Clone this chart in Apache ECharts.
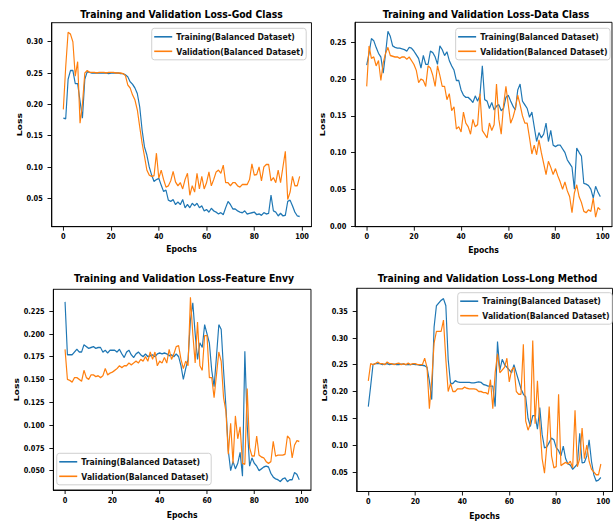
<!DOCTYPE html>
<html>
<head>
<meta charset="utf-8">
<script src="https://cdn.jsdelivr.net/npm/echarts@6.0.0/dist/echarts.min.js"></script>
<style>
  html, body { margin: 0; padding: 0; background: #fff; overflow: hidden; }
  #c { width: 739px; height: 523px; transform: scaleX(0.82949); transform-origin: 0 0; }
</style>
</head>
<body>
<div id="c"></div>
<script>
// ---- data ----
const epochs = Array.from({ length: 100 }, (_, i) => i);
const seriesNames = ['Training(Balanced Dataset)', 'Validation(Balanced Dataset)'];
const titles = [
  'Training and Validation Loss-God Class',
  'Training and Validation Loss-Data Class',
  'Training and Validation Loss-Feature Envy',
  'Training and Validation Loss-Long Method'
];
const xTicks = [0, 20, 40, 60, 80, 100];
const yTicks1 = [0.05, 0.10, 0.15, 0.20, 0.25, 0.30];
const yTicks2 = [0.00, 0.05, 0.10, 0.15, 0.20, 0.25];
const yTicks3 = [0.050, 0.075, 0.100, 0.125, 0.150, 0.175, 0.200, 0.225];
const yTicks4 = [0.05, 0.10, 0.15, 0.20, 0.25, 0.30, 0.35];

const godTrain = [
  0.178,0.177,0.240,0.254,0.254,0.233,0.233,0.205,0.178,0.240,
  0.252,0.251,0.250,0.250,0.250,0.250,0.250,0.250,0.250,0.249,
  0.250,0.250,0.250,0.250,0.249,0.249,0.247,0.244,0.236,0.232,
  0.226,0.217,0.196,0.159,0.132,0.119,0.100,0.087,0.077,0.080,
  0.082,0.071,0.061,0.063,0.047,0.045,0.048,0.040,0.044,0.040,
  0.048,0.035,0.040,0.035,0.042,0.038,0.042,0.035,0.038,0.030,
  0.032,0.028,0.034,0.030,0.028,0.025,0.027,0.024,0.035,0.045,
  0.040,0.033,0.033,0.030,0.028,0.027,0.030,0.025,0.026,0.027,
  0.028,0.024,0.025,0.023,0.027,0.025,0.026,0.055,0.030,0.028,
  0.022,0.026,0.022,0.023,0.045,0.047,0.038,0.028,0.022,0.021
];
const godVal = [
  0.192,0.260,0.315,0.312,0.300,0.245,0.268,0.170,0.200,0.250,
  0.254,0.251,0.251,0.251,0.250,0.251,0.251,0.251,0.250,0.251,
  0.251,0.251,0.250,0.250,0.250,0.249,0.246,0.231,0.226,0.215,
  0.207,0.191,0.164,0.138,0.117,0.095,0.087,0.085,0.086,0.122,
  0.082,0.095,0.080,0.068,0.070,0.078,0.093,0.076,0.070,0.075,
  0.065,0.080,0.090,0.055,0.070,0.060,0.090,0.065,0.085,0.065,
  0.075,0.092,0.070,0.080,0.092,0.095,0.090,0.103,0.075,0.075,
  0.070,0.075,0.075,0.070,0.068,0.072,0.072,0.072,0.080,0.105,
  0.087,0.088,0.100,0.078,0.100,0.104,0.104,0.078,0.083,0.075,
  0.095,0.075,0.100,0.125,0.048,0.060,0.085,0.070,0.070,0.085
];
const dataTrain = [
  0.219,0.235,0.255,0.252,0.243,0.235,0.230,0.208,0.235,0.265,
  0.258,0.245,0.243,0.242,0.242,0.241,0.240,0.238,0.243,0.242,
  0.238,0.233,0.228,0.215,0.232,0.220,0.220,0.238,0.236,0.230,
  0.220,0.245,0.240,0.232,0.237,0.225,0.218,0.212,0.198,0.198,
  0.185,0.178,0.175,0.175,0.172,0.168,0.177,0.170,0.178,0.218,
  0.172,0.170,0.160,0.168,0.158,0.163,0.165,0.157,0.160,0.175,
  0.178,0.170,0.163,0.158,0.185,0.193,0.170,0.165,0.160,0.148,
  0.155,0.135,0.115,0.127,0.120,0.125,0.140,0.115,0.130,0.110,
  0.108,0.110,0.110,0.105,0.100,0.090,0.085,0.080,0.050,0.106,
  0.100,0.095,0.058,0.057,0.055,0.050,0.038,0.054,0.046,0.040
];
const dataVal = [
  0.190,0.245,0.228,0.230,0.218,0.225,0.198,0.222,0.235,0.243,
  0.232,0.231,0.230,0.230,0.228,0.230,0.230,0.227,0.230,0.225,
  0.220,0.212,0.195,0.200,0.198,0.190,0.218,0.215,0.205,0.190,
  0.218,0.205,0.190,0.190,0.172,0.180,0.157,0.162,0.132,0.135,
  0.128,0.155,0.140,0.135,0.125,0.145,0.135,0.138,0.180,0.130,
  0.125,0.120,0.140,0.130,0.138,0.193,0.145,0.125,0.165,0.190,
  0.165,0.140,0.148,0.160,0.178,0.165,0.150,0.140,0.140,0.120,
  0.098,0.110,0.097,0.117,0.100,0.085,0.070,0.088,0.080,0.070,
  0.078,0.068,0.060,0.050,0.060,0.048,0.040,0.018,0.045,0.056,
  0.040,0.032,0.020,0.018,0.022,0.020,0.038,0.012,0.025,0.022
];
const envyTrain = [
  0.235,0.177,0.177,0.177,0.180,0.183,0.180,0.180,0.188,0.186,
  0.184,0.185,0.186,0.184,0.185,0.185,0.180,0.182,0.179,0.182,
  0.182,0.182,0.180,0.183,0.178,0.174,0.180,0.182,0.177,0.174,
  0.178,0.180,0.177,0.175,0.178,0.175,0.176,0.177,0.175,0.178,
  0.179,0.178,0.179,0.178,0.176,0.177,0.175,0.178,0.175,0.165,
  0.150,0.162,0.172,0.215,0.234,0.200,0.172,0.190,0.185,0.210,
  0.200,0.190,0.160,0.142,0.175,0.210,0.205,0.160,0.120,0.072,
  0.050,0.060,0.052,0.058,0.070,0.044,0.181,0.100,0.055,0.064,
  0.058,0.055,0.050,0.052,0.054,0.055,0.054,0.047,0.043,0.041,
  0.040,0.038,0.041,0.042,0.038,0.040,0.040,0.048,0.046,0.040
];
const envyVal = [
  0.183,0.150,0.149,0.147,0.152,0.152,0.150,0.148,0.160,0.152,
  0.150,0.155,0.155,0.153,0.154,0.152,0.154,0.162,0.155,0.157,
  0.158,0.160,0.162,0.165,0.163,0.165,0.165,0.168,0.166,0.168,
  0.170,0.168,0.172,0.170,0.175,0.170,0.180,0.172,0.180,0.165,
  0.170,0.168,0.174,0.168,0.183,0.172,0.178,0.186,0.187,0.172,
  0.162,0.170,0.165,0.240,0.200,0.168,0.213,0.165,0.160,0.198,
  0.198,0.152,0.152,0.130,0.155,0.180,0.170,0.130,0.115,0.068,
  0.102,0.058,0.110,0.085,0.098,0.058,0.057,0.140,0.075,0.066,
  0.066,0.088,0.067,0.065,0.064,0.060,0.058,0.060,0.082,0.066,
  0.067,0.067,0.067,0.068,0.088,0.085,0.064,0.078,0.083,0.082
];
const longTrain = [
  0.172,0.210,0.250,0.252,0.252,0.252,0.250,0.251,0.252,0.250,
  0.251,0.251,0.250,0.250,0.251,0.251,0.250,0.250,0.250,0.251,
  0.250,0.250,0.249,0.249,0.248,0.245,0.220,0.185,0.320,0.360,
  0.365,0.370,0.373,0.360,0.260,0.215,0.215,0.220,0.218,0.217,
  0.217,0.217,0.217,0.217,0.216,0.216,0.217,0.218,0.217,0.213,
  0.212,0.210,0.210,0.210,0.172,0.293,0.240,0.260,0.250,0.245,
  0.240,0.235,0.250,0.235,0.220,0.205,0.195,0.190,0.150,0.135,
  0.155,0.155,0.130,0.170,0.120,0.095,0.097,0.105,0.113,0.110,
  0.095,0.090,0.080,0.098,0.075,0.065,0.063,0.055,0.060,0.065,
  0.122,0.067,0.068,0.080,0.110,0.070,0.045,0.033,0.035,0.040
];
const longVal = [
  0.220,0.252,0.250,0.252,0.255,0.252,0.252,0.250,0.255,0.252,
  0.252,0.250,0.252,0.253,0.250,0.252,0.250,0.253,0.250,0.252,
  0.252,0.250,0.250,0.250,0.262,0.245,0.168,0.220,0.290,0.312,
  0.312,0.312,0.333,0.260,0.200,0.215,0.200,0.200,0.205,0.205,
  0.205,0.208,0.206,0.205,0.205,0.205,0.204,0.200,0.200,0.198,
  0.198,0.195,0.222,0.168,0.235,0.270,0.235,0.240,0.245,0.262,
  0.218,0.240,0.245,0.200,0.195,0.195,0.288,0.145,0.128,0.140,
  0.295,0.140,0.220,0.140,0.075,0.048,0.100,0.172,0.080,0.058,
  0.060,0.195,0.062,0.065,0.068,0.065,0.070,0.058,0.165,0.060,
  0.075,0.132,0.075,0.100,0.070,0.055,0.050,0.045,0.045,0.065
];

// ---- layout / style (chart space, compressed horizontally by CSS) ----
const FONT = "'DejaVu Sans', sans-serif";
const BLUE = '#1f77b4', ORANGE = '#ff7f0e';
const panels = [
  { train: godTrain,  val: godVal,  yTicks: yTicks1, dec: 2, yMin: 0.0047, yMax: 0.3303,
    grid: { left: 62.1, top: 22.7, width: 313.4, height: 204 }, titleX: 218.8, titleY: 8,
    legend: { left: 182.9, top: 28.3 }, yGap: 34.5, xGap: 18 },
  { train: dataTrain, val: dataVal, yTicks: yTicks2, dec: 2, yMin: -0.001, yMax: 0.2772,
    grid: { left: 428.0, top: 22.3, width: 309.8, height: 204.4 }, titleX: 585.9, titleY: 8,
    legend: { left: 549.3, top: 28.3 }, yGap: 34.6, xGap: 18.5 },
  { train: envyTrain, val: envyVal, yTicks: yTicks3, dec: 3, yMin: 0.0288, yMax: 0.2488,
    grid: { left: 64.3, top: 289.3, width: 310.6, height: 200.7 }, titleX: 221.8, titleY: 272.5,
    legend: { left: 68.4, top: 453.3 }, yGap: 40.7, xGap: 20 },
  { train: longTrain, val: longVal, yTicks: yTicks4, dec: 2, yMin: 0.0137, yMax: 0.3923,
    grid: { left: 430.0, top: 288.3, width: 308.4, height: 203.2 }, titleX: 587.7, titleY: 272.5,
    legend: { left: 551.8, top: 292.7 }, yGap: 32.7, xGap: 20 }
];

const option = {
  animation: false,
  backgroundColor: '#fff',
  title: panels.map((p, i) => ({
    text: titles[i], left: p.titleX, top: p.titleY, textAlign: 'center', padding: 0,
    textStyle: { fontFamily: FONT, fontSize: 11.2, fontWeight: 'bold', color: '#000' }
  })),
  legend: panels.map((p) => ({
    data: seriesNames, orient: 'vertical', left: p.legend.left, top: p.legend.top,
    icon: 'rect', itemWidth: 21.7, itemHeight: 1.6, itemGap: 1.5, padding: [2, 3, 2, 3],
    backgroundColor: 'rgba(255,255,255,0.8)', borderColor: '#cccccc', borderWidth: 1, borderRadius: 3,
    selectedMode: false,
    textStyle: { fontFamily: FONT, fontSize: 9.3, fontWeight: 'bold', color: '#111', lineHeight: 13 }
  })),
  grid: panels.map((p) => Object.assign({ show: true, borderColor: '#000', borderWidth: 1,
    backgroundColor: 'transparent', containLabel: false, outerBoundsMode: 'none' }, p.grid)),
  xAxis: panels.map((p, i) => ({
    type: 'value', gridIndex: i, min: -4.95, max: 103.95,
    name: 'Epochs', nameLocation: 'middle', nameGap: p.xGap,
    nameTextStyle: { fontFamily: FONT, fontSize: 9.3, fontWeight: 'bold', color: '#000' },
    axisLine: { show: true, onZero: false, lineStyle: { color: '#000', width: 1 } },
    axisTick: { show: true, length: 4, customValues: xTicks, lineStyle: { color: '#000', width: 1 } },
    axisLabel: { customValues: xTicks, margin: 6, fontFamily: FONT, fontSize: 8, fontWeight: 'bold', color: '#000' },
    splitLine: { show: false }
  })),
  yAxis: panels.map((p, i) => ({
    type: 'value', gridIndex: i, min: p.yMin, max: p.yMax,
    name: 'Loss', nameLocation: 'middle', nameGap: p.yGap,
    nameTextStyle: { fontFamily: FONT, fontSize: 9.3, fontWeight: 'bold', color: '#000' },
    axisLine: { show: true, onZero: false, lineStyle: { color: '#000', width: 1 } },
    axisTick: { show: true, length: 4.8, customValues: p.yTicks, lineStyle: { color: '#000', width: 1 } },
    axisLabel: { customValues: p.yTicks, margin: 10.5, fontFamily: FONT, fontSize: 8, fontWeight: 'bold', color: '#000',
      formatter: (v) => Number(v).toFixed(p.dec) },
    splitLine: { show: false }
  })),
  series: []
};

panels.forEach((p, i) => {
  [[p.train, BLUE, 0], [p.val, ORANGE, 1]].forEach(([arr, color, k]) => {
    option.series.push({
      name: seriesNames[k], type: 'line', xAxisIndex: i, yAxisIndex: i,
      data: arr.map((v, j) => [epochs[j], v]),
      showSymbol: false, symbol: 'none', color: color,
      lineStyle: { color: color, width: 1.4 }, z: 2 + k
    });
  });
});

const chart = echarts.init(document.getElementById('c'), null, { renderer: 'svg' });
chart.setOption(option);
</script>
</body>
</html>
